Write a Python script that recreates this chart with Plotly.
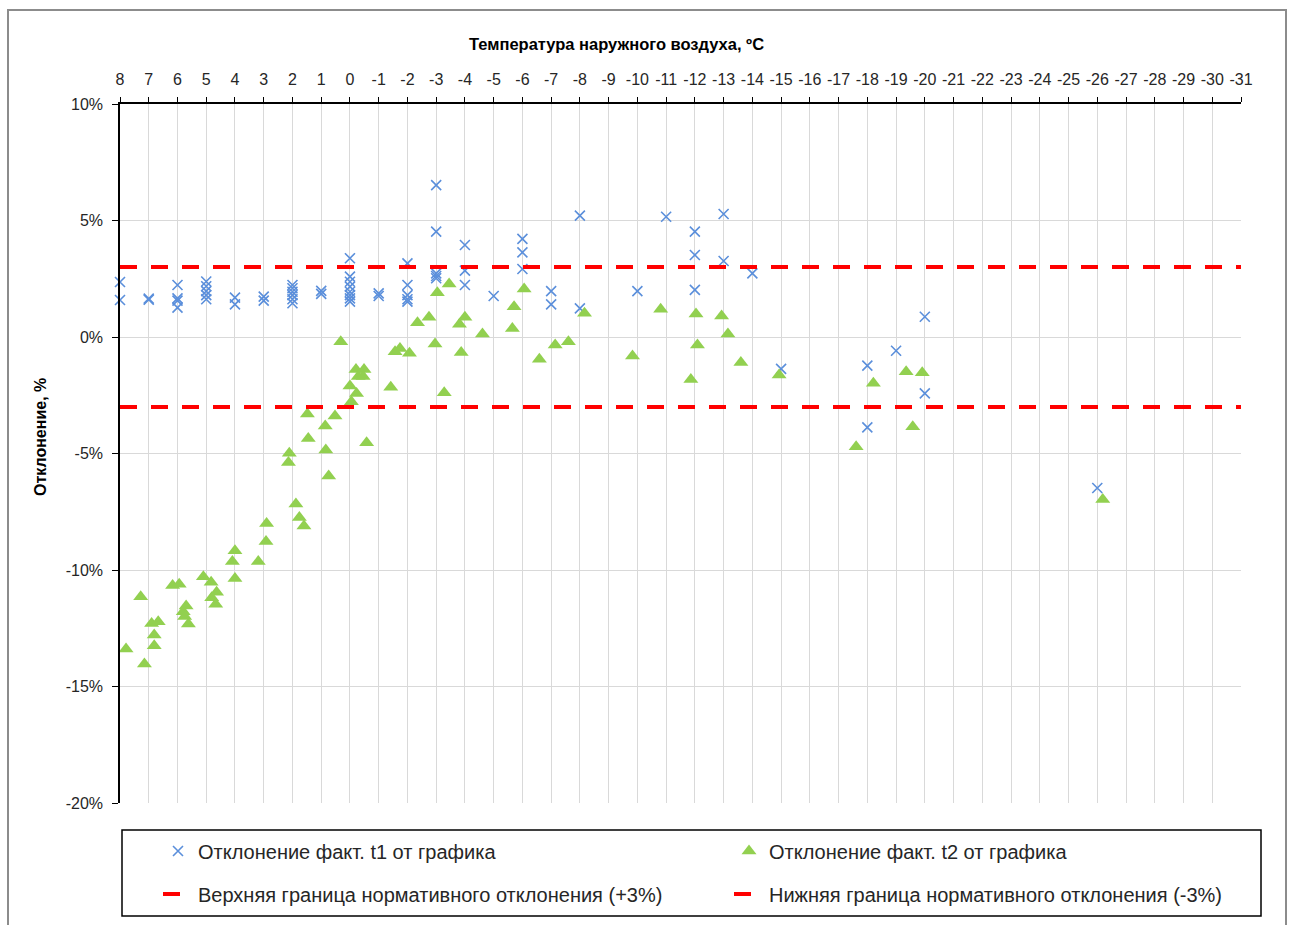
import plotly.graph_objects as go

# ---- data ----
x_ticks = list(range(8, -32, -1))
y_ticks = [-20, -15, -10, -5, 0, 5, 10]
y_ticktext = ["-20%", "-15%", "-10%", "-5%", "0%", "5%", "10%"]

t1_x = [8, 8, 7, 7, 6, 6, 6, 6, 5, 5, 5, 5, 5, 4, 4, 3, 3,
        2, 2, 2, 2, 2, 2, 1, 1, 0, 0, 0, 0, 0, 0, 0, 0, -1, -1,
        -2, -2, -2, -2, -2, -3, -3, -3, -3, -3, -4, -4, -4, -5,
        -6, -6, -6, -7, -7, -8, -8, -10, -11, -12, -12, -12, -13, -13,
        -14, -15, -18, -18, -19, -20, -20, -26]
t1_y = [2.36, 1.59, 1.65, 1.60, 2.23, 1.66, 1.56, 1.26, 2.38, 2.18, 1.97, 1.80, 1.62, 1.69, 1.40, 1.73, 1.56,
        2.23, 2.09, 1.94, 1.80, 1.62, 1.45, 1.98, 1.85, 3.38, 2.59, 2.37, 2.16, 1.94, 1.80, 1.66, 1.52, 1.87, 1.76,
        3.16, 2.23, 1.80, 1.62, 1.52, 6.52, 4.52, 2.73, 2.62, 2.52, 3.95, 2.85, 2.23, 1.76,
        4.21, 3.63, 2.92, 1.97, 1.40, 5.21, 1.23, 1.97, 5.16, 4.52, 3.52, 2.02, 5.28, 3.26,
        2.73, -1.37, -1.23, -3.88, -0.59, 0.87, -2.42, -6.48]

t2_x = [7.79, 7.28, 7.15, 6.90, 6.81, 6.81, 6.67,
        6.17, 5.94, 5.80, 5.70, 5.75, 5.62,
        5.10, 4.83, 4.81, 4.67, 4.64,
        4.09, 4.00, 4.00, 3.19, 2.92, 2.90,
        2.14, 2.11, 1.88, 1.76, 1.60,
        1.48, 1.45, 0.86, 0.84, 0.74, 0.52,
        0.32, 0.00, -0.05, -0.21, -0.49, -0.29, -0.46, -0.23,
        -0.58, -1.42, -1.57, -1.74, -2.07, -2.35, -2.75, -2.96,
        -3.04, -3.45, -3.28, -3.81, -4.00, -3.87, -4.61,
        -5.71, -5.65, -6.06, -6.59, -7.14, -7.60, -8.16,
        -9.83, -10.81, -12.04, -12.09, -11.86, -12.93, -13.15, -13.60,
        -14.93, -17.61, -18.21, -19.35, -19.91, -19.58, -26.19]
t2_y = [-13.39, -11.15, -14.03, -12.30, -12.79, -13.25, -12.22,
        -10.67, -10.61, -11.79, -11.55, -12.00, -12.32,
        -10.29, -10.53, -11.19, -11.47, -10.96,
        -9.64, -9.17, -10.36, -9.64, -8.78, -8.00,
        -5.39, -4.99, -7.17, -7.75, -8.11,
        -3.30, -4.36, -3.82, -4.85, -5.97, -3.39,
        -0.20, -2.10, -2.78, -1.39, -1.39, -1.70, -1.70, -2.42,
        -4.54, -2.16, -0.63, -0.49, -0.70, 0.61, 0.85, -0.30,
        1.90, 2.27, -2.39, 0.55, 0.85, -0.67, 0.13,
        1.30, 0.36, 2.06, -0.96, -0.34, -0.20, 1.02,
        -0.82, 1.19, 0.99, -0.34, -1.82, 0.90, 0.13, -1.09,
        -1.63, -4.71, -1.99, -1.49, -1.53, -3.85, -6.97]

limit_x = [8, -31]
upper_y = [3, 3]
lower_y = [-3, -3]

name_t1 = "Отклонение факт. t1 от графика"
name_t2 = "Отклонение факт. t2 от графика"
name_up = "Верхняя граница нормативного отклонения (+3%)"
name_lo = "Нижняя граница нормативного отклонения (-3%)"

FONT = "Liberation Sans"
TXT = "#262626"

# plot area in px
L, R, T, B = 120, 1241, 104, 803
W, H = R - L, B - T
def px_x(p):
    return (p - L) / W
def px_y(p):
    return (B - p) / H

fig = go.Figure()
fig.add_trace(go.Scatter(x=t1_x, y=t1_y, mode="markers", name=name_t1, cliponaxis=False,
                         marker=dict(symbol="x-thin", size=10, line=dict(color="#5B8FDB", width=1.6), color="#5B8FDB"),
                         legend="legend"))
fig.add_trace(go.Scatter(x=t2_x, y=t2_y, mode="markers", name=name_t2, cliponaxis=False,
                         marker=dict(symbol="triangle-up", size=13, color="#92D050"),
                         legend="legend2"))
fig.add_trace(go.Scatter(x=limit_x, y=upper_y, mode="lines", name=name_up,
                         line=dict(color="#FF0000", width=4, dash="17px,14px"), legend="legend3"))
fig.add_trace(go.Scatter(x=limit_x, y=lower_y, mode="lines", name=name_lo,
                         line=dict(color="#FF0000", width=4, dash="17px,14px"), legend="legend4"))

def leg(xp, yp):
    return dict(orientation="h", xanchor="left", yanchor="middle", x=px_x(xp), y=px_y(yp),
                bgcolor="rgba(0,0,0,0)", font=dict(family=FONT, size=20, color=TXT), itemclick=False)

fig.update_layout(
    width=1290, height=925,
    margin=dict(l=L, r=1290 - R, t=T, b=925 - B, autoexpand=False),
    paper_bgcolor="white", plot_bgcolor="white",
    font=dict(family=FONT, color=TXT),
    showlegend=True,
    legend=leg(158, 851),
    legend2=leg(729, 851),
    legend3=leg(158, 894),
    legend4=leg(729, 894),
    xaxis=dict(side="top", range=[8, -31], tickmode="array", tickvals=x_ticks,
               ticktext=[str(v) for v in x_ticks], showgrid=True, gridcolor="#D9D9D9", gridwidth=1,
               showline=True, linecolor="black", linewidth=1.5, ticks="outside", ticklen=5,
               tickcolor="black", tickfont=dict(size=16, color=TXT), zeroline=False,
               ticklabelstandoff=6),
    yaxis=dict(range=[-20, 10], tickmode="array", tickvals=y_ticks, ticktext=y_ticktext,
               showgrid=True, gridcolor="#D9D9D9", gridwidth=1, showline=True, linecolor="black",
               linewidth=1.5, ticks="outside", ticklen=6, tickcolor="black",
               tickfont=dict(size=16, color=TXT), zeroline=False, ticklabelstandoff=6),
    shapes=[
        dict(type="rect", xref="paper", yref="paper", x0=px_x(122), x1=px_x(1261), y0=px_y(916), y1=px_y(830),
             line=dict(color="black", width=1.5), fillcolor="rgba(0,0,0,0)"),
        dict(type="rect", xref="paper", yref="paper", x0=px_x(8), x1=px_x(1286), y0=px_y(935), y1=px_y(10),
             line=dict(color="#8C8C8C", width=2), fillcolor="rgba(0,0,0,0)", layer="below"),
    ],
    annotations=[
        dict(text="<b>Температура наружного воздуха, ºC</b>", xref="paper", yref="paper",
             x=px_x(616), y=px_y(44), showarrow=False, xanchor="center", yanchor="middle",
             font=dict(family=FONT, size=16.5, color="black")),
        dict(text="<b>Отклонение, %</b>", xref="paper", yref="paper", textangle=-90,
             x=px_x(40), y=px_y(437), showarrow=False, xanchor="center", yanchor="middle",
             font=dict(family=FONT, size=16, color="black")),
    ],
)

fig.write_html("out.html")
